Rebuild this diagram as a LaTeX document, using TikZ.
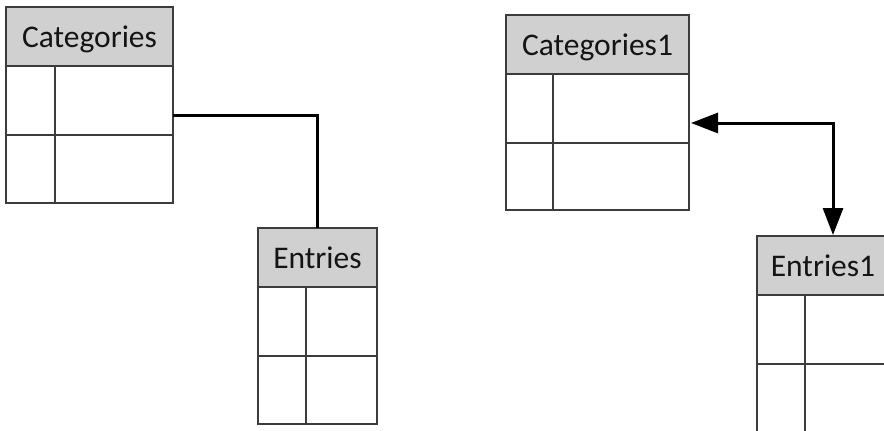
\documentclass[tikz,border=0pt]{standalone}
\usepackage{fontspec}
\setmainfont{Carlito}
\usetikzlibrary{arrows.meta}
\definecolor{hdrfill}{HTML}{D0D0D0}
\definecolor{gridline}{HTML}{3C3C3C}
\definecolor{txt}{HTML}{141414}
\tikzset{
  cell/.style={draw=gridline, line width=1.5pt, fill=white, inner sep=0pt, outer sep=0pt, anchor=north west, rectangle},
  hdr/.style={cell, fill=hdrfill, text=txt, font=\fontsize{31.5}{34}\selectfont, minimum height=59pt, text depth=0pt},
  link/.style={draw=black, line width=3pt},
  bigtip/.tip={Triangle[length=27pt,width=20pt]}
}
\begin{document}
\begin{tikzpicture}[x=1pt,y=-1pt]
\useasboundingbox (0,0) rectangle (884,431);
\clip (0,0) rectangle (884,431);
\fill[white] (0,0) rectangle (884,431);
% Categories
\node[hdr, minimum width=167pt] (cath) at (6,7) {Categories};
\node[cell, minimum width=49pt, minimum height=69pt] (catr1a) at (6,66) {};
\node[cell, minimum width=118pt, minimum height=69pt] (catr1b) at (55,66) {};
\node[cell, minimum width=49pt, minimum height=68pt] (catr2a) at (6,135) {};
\node[cell, minimum width=118pt, minimum height=68pt] (catr2b) at (55,135) {};
% Entries
\node[hdr, minimum width=119pt] (enth) at (258,228) {Entries};
\node[cell, minimum width=48pt, minimum height=69pt] (entr1a) at (258,287) {};
\node[cell, minimum width=71pt, minimum height=69pt] (entr1b) at (306,287) {};
\node[cell, minimum width=48pt, minimum height=68pt] (entr2a) at (258,356) {};
\node[cell, minimum width=71pt, minimum height=68pt] (entr2b) at (306,356) {};
% Categories1
\node[hdr, minimum width=183pt] (cat1h) at (506,15) {Categories1};
\node[cell, minimum width=47pt, minimum height=69pt] (cat1r1a) at (506,74) {};
\node[cell, minimum width=136pt, minimum height=69pt] (cat1r1b) at (553,74) {};
\node[cell, minimum width=47pt, minimum height=67pt] (cat1r2a) at (506,143) {};
\node[cell, minimum width=136pt, minimum height=67pt] (cat1r2b) at (553,143) {};
% Entries1
\node[hdr, minimum width=132pt] (ent1h) at (757,236) {Entries1};
\node[cell, minimum width=48pt, minimum height=69pt] (ent1r1a) at (757,295) {};
\node[cell, minimum width=84pt, minimum height=69pt] (ent1r1b) at (805,295) {};
\node[cell, minimum width=48pt, minimum height=68pt] (ent1r2a) at (757,364) {};
\node[cell, minimum width=84pt, minimum height=68pt] (ent1r2b) at (805,364) {};
% connectors
\coordinate (catout) at ([yshift=-14.5pt]catr1b.east);
\draw[link] (catout) -| (enth.north);
\coordinate (cat1in) at ([yshift=-14.5pt,xshift=2pt]cat1r1b.east);
\coordinate (ent1in) at ([xshift=10pt,yshift=1pt]ent1h.north);
\draw[link, bigtip-bigtip] (cat1in) -| (ent1in);
\end{tikzpicture}
\end{document}
